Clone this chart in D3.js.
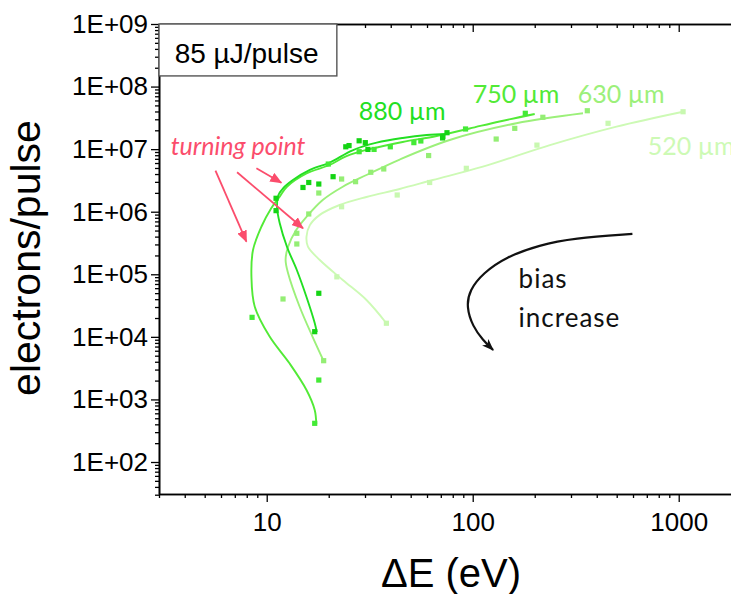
<!DOCTYPE html>
<html><head><meta charset="utf-8">
<script src="https://cdn.jsdelivr.net/npm/d3@7"></script>
<style>
html,body{margin:0;padding:0;background:#fff;}
svg{display:block;}
</style></head><body>
<svg id="chart" width="731" height="594"></svg>
<script>
// ---------------- data ----------------
const seriesLabels = ["880 µm", "750 µm", "630 µm", "520 µm"];

// measured points [ΔE (eV), electrons/pulse]
const points880 = [[11.1,1.64e6],[11.1,1.04e6],[15.0,2.44e6],[16.0,2.93e6],[17.9,2.77e6],[21.0,3.63e6],
  [24.2,1.09e7],[25.1,1.14e7],[28.1,1.36e7],[30.1,1.27e7],[31.0,9.9e6],[75.0,1.83e7],[71.4,1.51e7],
  [71.6,1.6e7],[17.9,4.97e4],[17.1,1.21e4]];
const points750 = [[17.1,415],[17.9,2040],[8.49,2.05e4],[19.9,5.78e6],[28.1,9.1e6],[33.2,9.9e6],
  [39.8,1.09e7],[51.8,1.27e7],[56.0,1.35e7],[92.3,2.10e7],[180,3.74e7]];
const points630 = [[12.0,4.03e4],[18.9,4160],[14.0,4.52e5],[14.0,3.05e5],[16.0,9.2e5],[17.9,1.99e6],
  [23.1,3.33e6],[27.0,3.02e6],[32.0,4.27e6],[37.0,4.82e6],[61.1,7.9e6],[130,1.45e7],[160,2.15e7],
  [219,3.23e7],[360,4.11e7]];
const points520 = [[38.1,1.65e4],[21.9,9.1e4],[23.1,1.20e6],[43.0,1.85e6],[61.8,2.93e6],[93.1,4.94e6],
  [205,1.16e7],[454,2.59e7],[1050,3.96e7]];

// fitted guide curves [ΔE, electrons/pulse]
const fit880 = [[17.5,1.19e4],[17.1,1.66e4],[15.6,4.33e4],[14.0,1.17e5],[12.55,2.73e5],[11.56,6.6e5],
  [11.22,1.19e6],[11.4,1.85e6],[12.0,2.37e6],[13.4,3.21e6],[16.2,4.65e6],[20.2,6.1e6],[26.1,9.6e6],
  [34.2,1.27e7],[45.7,1.51e7],[59.8,1.68e7],[74.8,1.75e7]];
const fit750 = [[17.4,405],[17.1,678],[15.6,1413],[12.9,3776],[10.35,1.0e4],[8.75,3.03e4],[8.43,9.1e4],
  [8.58,2.44e5],[9.42,5.75e5],[10.5,1.13e6],[11.56,1.74e6],[12.5,2.48e6],[15.6,4.08e6],[20.2,5.58e6],
  [24.4,7.76e6],[31.6,1.0e7],[45.7,1.30e7],[66.8,1.62e7],[96.6,2.14e7],[135,2.77e7],[200,3.65e7]];
const fit630 = [[18.9,4110],[16.7,1.0e4],[14.45,3.03e4],[12.7,1.04e5],[12.35,1.69e5],[12.7,2.76e5],
  [13.9,5.1e5],[15.6,8.3e5],[18.7,1.54e6],[23.4,2.51e6],[30.5,3.86e6],[44.2,6.83e6],[77.3,1.40e7],
  [163,2.59e7],[343,3.74e7]];
const fit520 = [[38.1,1.65e4],[30.5,3.88e4],[23.4,8.1e4],[18.1,1.69e5],[15.85,2.76e5],[15.6,4.0e5],
  [16.2,6.1e5],[18.1,8.9e5],[22.6,1.28e6],[30.5,1.72e6],[44.2,2.31e6],[64.0,3.21e6],[112,5.24e6],
  [237,1.16e7],[499,2.29e7],[1050,3.96e7]];

// bias-increase guide arrow [ΔE, electrons/pulse]
const biasArrow = [[596,4.41e5],[307,3.76e5],[211,2.94e5],[146,1.91e5],[112,1.04e5],[96.6,5.61e4],
  [93.1,3.03e4],[100.2,1.45e4],[112,8.91e3],[125.6,6.17e3]];
// "turning point" arrows [[from],[to]]
const turnArrows = [[[5.64,4.52e6],[7.97,3.32e5]], [[7.18,4.27e6],[15.0,5.43e5]], [[8.91,4.94e6],[11.78,2.91e6]]];

// axis ticks
const xMajor = [10, 100, 1000];
const yMajor = [1e2, 1e3, 1e4, 1e5, 1e6, 1e7, 1e8, 1e9];

// ---------------- styles / layout ----------------
const colors = ["#22df22", "#52ea36", "#9cf07a", "#cdfab5"];
const pointColors = ["#14d414", "#44ea36", "#94ee74", "#c8f8b0"];
const W = 731, H = 594;
const mLeft = 159, mTop = 24, mBottom = 494;

const svg = d3.select("#chart");
const x = d3.scaleLog().domain([3, 3000]).range([mLeft, mLeft + 206 * 3]);
const y = d3.scaleLog().domain([30.8, 1e9]).range([mBottom, mTop]);

const minorX = [];
for (let k = 0; k <= 3; k++) for (let m = 2; m <= 9; m++) { const v = m * Math.pow(10, k); if (v >= 3 && v <= 3000) minorX.push(v); }
const minorY = [];
for (let k = 1; k <= 8; k++) for (let m = 2; m <= 9; m++) { const v = m * Math.pow(10, k); if (v >= 30 && v <= 1e9) minorY.push(v); }

const defs = svg.append("defs");
defs.append("clipPath").attr("id", "plotclip")
  .append("rect").attr("x", mLeft).attr("y", mTop).attr("width", W - mLeft).attr("height", mBottom - mTop);
defs.append("marker").attr("id", "pinkHead").attr("markerUnits", "userSpaceOnUse")
  .attr("viewBox", "0 0 12 10").attr("refX", 11).attr("refY", 5).attr("markerWidth", 12).attr("markerHeight", 10)
  .attr("orient", "auto").append("path").attr("d", "M0,0 L12,5 L0,10 Z").attr("fill", "#fb4d6c");
defs.append("marker").attr("id", "blackHead").attr("markerUnits", "userSpaceOnUse")
  .attr("viewBox", "0 0 12 10").attr("refX", 11).attr("refY", 5).attr("markerWidth", 12).attr("markerHeight", 10)
  .attr("orient", "auto").append("path").attr("d", "M0,0.5 L12,5 L0,9.5 L3,5 Z").attr("fill", "#111");

// axes
function styleAxis(g) {
  g.selectAll("path.domain").attr("stroke", "#000").attr("stroke-width", 1.6);
  g.selectAll(".tick line").attr("stroke", "#000").attr("stroke-width", 1.3);
  g.selectAll(".tick text").attr("fill", "#000").style("font-family", "'Liberation Sans', Arial, sans-serif").style("font-size", "26px");
}
const xMinorOnly = minorX.filter(v => !xMajor.includes(v));
const yMinorOnly = minorY.filter(v => !yMajor.includes(v));
styleAxis(svg.append("g").attr("transform", `translate(0,${mBottom})`)
  .call(d3.axisBottom(x).tickValues(xMajor).tickSize(8).tickSizeOuter(0).tickPadding(11).tickFormat(d3.format("d"))));
styleAxis(svg.append("g").attr("transform", `translate(0,${mBottom})`)
  .call(d3.axisBottom(x).tickValues(xMinorOnly).tickSize(4).tickSizeOuter(0).tickFormat("")));
styleAxis(svg.append("g").attr("transform", `translate(0,${mTop})`)
  .call(d3.axisTop(x).tickValues(xMajor).tickSize(-8).tickSizeOuter(0).tickFormat("")));
styleAxis(svg.append("g").attr("transform", `translate(0,${mTop})`)
  .call(d3.axisTop(x).tickValues(xMinorOnly).tickSize(-4).tickSizeOuter(0).tickFormat("")));
styleAxis(svg.append("g").attr("transform", `translate(${mLeft},0)`)
  .call(d3.axisLeft(y).tickValues(yMajor).tickSize(8).tickSizeOuter(0).tickPadding(3)
    .tickFormat(d => "1E+" + String(Math.round(Math.log10(d))).padStart(2, "0"))));
styleAxis(svg.append("g").attr("transform", `translate(${mLeft},0)`)
  .call(d3.axisLeft(y).tickValues(yMinorOnly).tickSize(4).tickSizeOuter(0).tickFormat("")));

// axis titles
svg.append("text").attr("x", 451).attr("y", 587).attr("text-anchor", "middle")
  .style("font-family", "'Liberation Sans', Arial, sans-serif").style("font-size", "40px").attr("fill", "#000")
  .text("ΔE (eV)");
svg.append("text").attr("transform", "translate(40,258) rotate(-90)").attr("text-anchor", "middle")
  .style("font-family", "'Liberation Sans', Arial, sans-serif").style("font-size", "41px").attr("fill", "#000")
  .text("electrons/pulse");

// legend box
svg.append("rect").attr("x", x(3)).attr("y", y(1e9)).attr("width", x(21.9) - x(3)).attr("height", y(1.48e8) - y(1e9))
  .attr("fill", "#fff").attr("stroke", "#555").attr("stroke-width", 1.4);
svg.append("text").attr("x", x(3.575)).attr("y", y(2.38e8))
  .style("font-family", "'Liberation Sans', Arial, sans-serif").style("font-size", "28px").attr("fill", "#000")
  .text("85 µJ/pulse");

// data
const plot = svg.append("g").attr("clip-path", "url(#plotclip)");
const line = d3.line().x(d => x(d[0])).y(d => y(d[1])).curve(d3.curveCatmullRom.alpha(0.5));
const fits = [fit880, fit750, fit630, fit520];
const pts = [points880, points750, points630, points520];

[3, 2, 1, 0].forEach(i => {
  plot.append("path").attr("d", line(fits[i])).attr("fill", "none")
    .attr("stroke", colors[i]).attr("stroke-width", 1.9);
});
[3, 2, 1, 0].forEach(i => {
  plot.append("g").selectAll("rect").data(pts[i]).join("rect")
    .attr("x", d => x(d[0]) - 2.6).attr("y", d => y(d[1]) - 2.6)
    .attr("width", 5.2).attr("height", 5.2).attr("fill", pointColors[i]);
});

// series labels
const labelPos = [[28.0, 2.92e7], [100, 5.52e7], [323.6, 5.52e7], [708, 8.06e6]];
seriesLabels.forEach((t, i) => {
  svg.append("text").attr("x", x(labelPos[i][0])).attr("y", y(labelPos[i][1]))
    .style("font-family", "Lato, 'Open Sans', sans-serif").style("font-size", "25px").attr("fill", colors[i])
    .text(t);
});

// turning point annotation
svg.append("text").attr("x", x(3.42)).attr("y", y(8.06e6))
  .style("font-family", "Lato, sans-serif").style("font-style", "italic").style("font-size", "25px")
  .attr("fill", "#fb4d6c").text("turning point");
turnArrows.forEach(a => {
  svg.append("line").attr("x1", x(a[0][0])).attr("y1", y(a[0][1])).attr("x2", x(a[1][0])).attr("y2", y(a[1][1]))
    .attr("stroke", "#fb4d6c").attr("stroke-width", 1.8).attr("marker-end", "url(#pinkHead)");
});

// bias increase arrow
svg.append("path").attr("d", d3.line().x(d => x(d[0])).y(d => y(d[1])).curve(d3.curveBasis)(biasArrow))
  .attr("fill", "none").attr("stroke", "#111").attr("stroke-width", 2.2).attr("marker-end", "url(#blackHead)");
svg.append("text").attr("x", x(167)).attr("y", y(6.04e4))
  .style("font-family", "Lato, sans-serif").style("font-size", "26px").style("letter-spacing", "1px")
  .attr("fill", "#111").text("bias");
svg.append("text").attr("x", x(167)).attr("y", y(1.45e4))
  .style("font-family", "Lato, sans-serif").style("font-size", "26px").style("letter-spacing", "1px")
  .attr("fill", "#111").text("increase");
</script>
</body></html>
